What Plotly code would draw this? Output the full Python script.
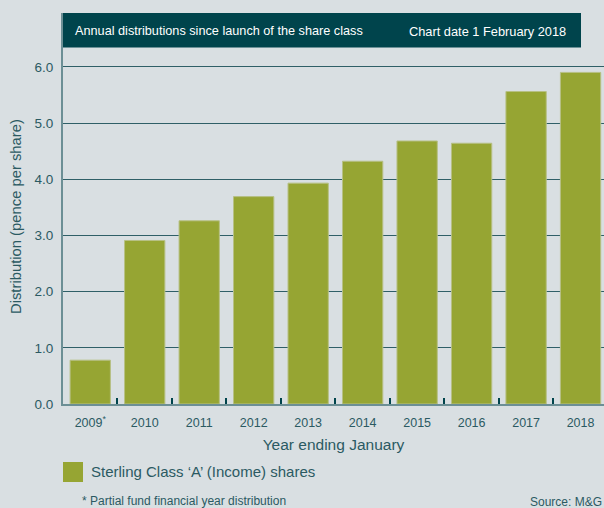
import plotly.graph_objects as go

years = ["2009<sup>*</sup>", "2010", "2011", "2012", "2013", "2014", "2015", "2016", "2017", "2018"]
distribution = [0.78, 2.91, 3.26, 3.69, 3.93, 4.32, 4.68, 4.64, 5.56, 5.90]
series_name = "Sterling Class ‘A’ (Income) shares"
y_ticks = [0, 1, 2, 3, 4, 5, 6]

BG = "#d9dfe2"
BAR = "#96a533"
TEAL = "#00444c"
TXT = "#2b5a62"
GRID = "#2f5f67"
AXIS = "#6c8f95"
NARROW = "Liberation Sans Narrow, Arial Narrow, Liberation Sans, Arial, sans-serif"
SANS = "Liberation Sans, Arial, sans-serif"

W, H = 604, 508
L, R, T, B = 63, 0, 13, 104
pw = W - L - R
ph = H - T - B

def px(x):
    return (x - L) / pw

def py(y):
    return (H - B - y) / ph

fig = go.Figure()
fig.add_trace(go.Bar(
    x=years, y=distribution, name=series_name,
    marker=dict(color=BAR, line=dict(color="#b7c085", width=1)),
    showlegend=False,
))

fig.update_layout(
    width=W, height=H,
    margin=dict(l=L, r=R, t=T, b=B, autoexpand=False),
    paper_bgcolor=BG, plot_bgcolor=BG,
    bargap=0.26,
    font=dict(family=SANS, color=TXT, size=12),
    xaxis=dict(
        type="category", range=[-0.5, 9.43],
        showline=True, linecolor=AXIS, linewidth=2,
        ticks="inside", tickson="boundaries", ticklen=6, tickwidth=1.5, tickcolor=TEAL,
        tickfont=dict(size=12.5, color=TXT),
        ticklabelstandoff=6,
        showgrid=False,
        title=dict(text="Year ending January", font=dict(size=15.5, color=TXT), standoff=10),
        automargin=False,
    ),
    yaxis=dict(
        range=[0, ph / 56.2],
        tickvals=y_ticks, tickformat=".1f",
        showline=True, linecolor=AXIS, linewidth=2,
        showgrid=True, gridcolor=GRID, gridwidth=1.2,
        zeroline=False,
        ticks="", ticklabelstandoff=5,
        tickfont=dict(size=13.5, color=TXT),
        automargin=False,
    ),
)

# Y-axis title
fig.add_annotation(text="Distribution (pence per share)", xref="paper", yref="paper",
                   x=px(16), y=py(217), xanchor="center", yanchor="middle",
                   textangle=-90, showarrow=False,
                   font=dict(size=14.8, color=TXT))

# Title banner
fig.add_shape(type="rect", xref="paper", yref="paper",
              x0=px(63), x1=px(581), y0=py(47.5), y1=py(13),
              fillcolor=TEAL, line=dict(width=0), layer="above")
fig.add_annotation(text="Annual distributions since launch of the share class",
                   xref="paper", yref="paper", x=px(73), y=py(31),
                   xanchor="left", yanchor="middle", showarrow=False,
                   font=dict(family=NARROW, size=12.7, color="#ffffff"))
fig.add_annotation(text="Chart date 1 February 2018",
                   xref="paper", yref="paper", x=px(568), y=py(31),
                   xanchor="right", yanchor="middle", showarrow=False,
                   font=dict(family=NARROW, size=12.8, color="#ffffff"))

# Legend swatch + label
fig.add_shape(type="rect", xref="paper", yref="paper",
              x0=px(63), x1=px(83), y0=py(482), y1=py(462),
              fillcolor=BAR, line=dict(width=0))
fig.add_annotation(text=series_name, xref="paper", yref="paper",
                   x=px(89), y=py(472), xanchor="left", yanchor="middle",
                   showarrow=False, font=dict(size=15, color=TXT))

# Footnotes
fig.add_annotation(text="* Partial fund financial year distribution", xref="paper", yref="paper",
                   x=px(80), y=py(501.5), xanchor="left", yanchor="middle",
                   showarrow=False, font=dict(size=12, color=TXT))
fig.add_annotation(text="Source: M&G", xref="paper", yref="paper",
                   x=px(528), y=py(502), xanchor="left", yanchor="middle",
                   showarrow=False, font=dict(size=12, color=TXT))

fig.write_html("out.html")
